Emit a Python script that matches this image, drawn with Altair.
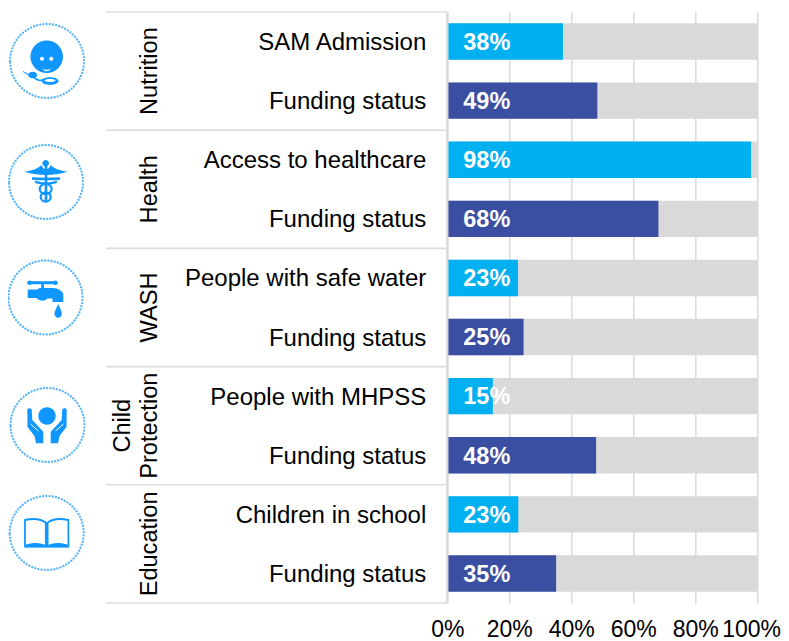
import json
import altair as alt
import pandas as pd

rows = list(range(10))
row_labels = ["SAM Admission", "Funding status", "Access to healthcare", "Funding status",
              "People with safe water", "Funding status", "People with MHPSS", "Funding status",
              "Children in school", "Funding status"]
values = [0.373, 0.484, 0.98, 0.681, 0.228, 0.246, 0.147, 0.48, 0.229, 0.351]
value_labels = ["38%", "49%", "98%", "68%", "23%", "25%", "15%", "48%", "23%", "35%"]
kinds = ["Indicator", "Funding"] * 5
groups = ["Nutrition", "Health", "WASH", "Protection", "Education"]
group_rows = [0.5, 2.5, 4.5, 6.5, 8.5]
second_line = ["Child"]
second_line_rows = [6.5]
separators = [-0.5, 1.5, 3.5, 5.5, 7.5, 9.5]
ticks = [0, 0.2, 0.4, 0.6, 0.8, 1.0]

FONT = "Liberation Sans"
GRID = "#DCDCDC"
BLUE = "#0F97FF"
X0, Y0 = 447.3, 12.0

df = pd.DataFrame({"row": rows, "value": values, "label": value_labels, "kind": kinds, "full": [1.0] * 10})
df_groups = pd.DataFrame({"group": groups, "row": group_rows})
df_second = pd.DataFrame({"group": second_line, "row": second_line_rows})
df_sep = pd.DataFrame({"row": separators})

x_scale = alt.Scale(domain=[0, 1], nice=False, zero=False, padding=0)
y_scale = alt.Scale(domain=[-0.5, 9.5], reverse=True, nice=False, zero=False, padding=0)
label_expr = "%s[datum.value]" % json.dumps(row_labels)

# The page's right margin would clip "100%", so that one label is nudged left to stay whole.
x_axis = alt.Axis(values=ticks, format=".0%", grid=True, gridColor=GRID, gridWidth=1.6, title=None,
                  domain=False, ticks=False, labelFont=FONT, labelFontSize=23,
                  labelColor="#000000", labelPadding=15.5, labelFlush=False, labelOverlap=False,
                  labelOffset=alt.expr("datum.value >= 1 ? -6.2 : 0"))
y_axis = alt.Axis(values=rows, labelExpr=label_expr, grid=False, domain=False, ticks=False, title=None,
                  labelFont=FONT, labelFontSize=24, labelColor="#000000", labelOffset=1,
                  labelPadding=21.5, labelLimit=320, labelOverlap=False, labelFlush=False)

X_FULL = alt.X("full:Q", scale=x_scale, axis=x_axis)
X_VALUE = alt.X("value:Q", scale=x_scale, axis=x_axis)
Y_ROW = alt.Y("row:Q", scale=y_scale, axis=y_axis)

background = alt.Chart(df).mark_bar(orient="horizontal", size=36.4, color="#D9D9D9").encode(x=X_FULL, y=Y_ROW)

bars = alt.Chart(df).mark_bar(orient="horizontal", size=36.4).encode(
    x=X_VALUE, y=Y_ROW,
    color=alt.Color("kind:N", legend=None,
                    scale=alt.Scale(domain=["Indicator", "Funding"], range=["#00B0F0", "#3A4EA2"])),
)

zero_line = alt.Chart(df_sep).mark_rule(color=GRID, strokeWidth=1.6).encode(
    x=alt.datum(0, scale=x_scale, axis=x_axis),
)

bar_text = alt.Chart(df).mark_text(align="left", baseline="middle", dx=16, dy=1.3, font=FONT,
                                   fontWeight="bold", fontSize=23.5, color="#FFFFFF").encode(
    x=alt.datum(0, scale=x_scale, axis=x_axis),
    y=Y_ROW,
    text="label:N",
)

sep_rules = alt.Chart(df_sep).mark_rule(color=GRID, strokeWidth=1.6).encode(
    x=alt.value(106 - X0), x2=alt.value(0), y=Y_ROW,
)

group_mark = dict(angle=270, align="center", baseline="bottom", font=FONT, fontSize=23.6, color="#000000")
group_text = alt.Chart(df_groups).mark_text(**group_mark).encode(
    x=alt.value(161.8 - X0), y=Y_ROW, text="group:N",
)
second_text = alt.Chart(df_second).mark_text(**group_mark).encode(
    x=alt.value(161.8 - 27 - X0), y=Y_ROW, text="group:N",
)


def circle(cx, cy, r):
    return f"M{cx-r},{cy}A{r},{r} 0 1 1 {cx+r},{cy}A{r},{r} 0 1 1 {cx-r},{cy}Z"


def ellipse(cx, cy, rx, ry):
    return f"M{cx-rx},{cy}A{rx},{ry} 0 1 1 {cx+rx},{cy}A{rx},{ry} 0 1 1 {cx-rx},{cy}Z"


def mirror_hand(sign, c=-0.5):
    pts = [(-20.2, -15.7), (-18, -17), (-15.8, -15.7), (-15.2, -5), (-4.2, 6.7), (-4.2, 18.3),
           (-11.5, 18.3), (-13, 11), (-20, 2)]
    return "M" + "L".join(f"{c + sign * (x - c):.1f},{y}" for x, y in pts) + "Z"


# Each icon: centre on the page, then (path, filled?, colour, stroke width)
ICONS = [
    (47, 61, [
        (circle(-0.3, -4.3, 16.3), True, BLUE, 0),
        (circle(-5, -2.3, 2), True, "#FFFFFF", 0),
        (circle(4.3, -2.3, 2), True, "#FFFFFF", 0),
        ("M-5,7.5Q-0.3,10 4.5,7.5Q-0.3,13 -5,7.5Z", True, "#FFFFFF", 0),
        ("M-24,10L-8,18.5L4,18.5L4,20L-9,20L-24,11Z", True, BLUE, 0),
        (ellipse(-14.3, 14, 4.5, 3.2), True, BLUE, 0),
        (ellipse(3, 20, 8.5, 3.8), True, BLUE, 0),
        (ellipse(3, 19.5, 5.5, 1.5), True, "#FFFFFF", 0),
    ]),
    (46, 182, [
        ("M-21.7,-10.3C-14,-11.5 -8,-13 -5,-17C-3,-14 -2,-13 -1,-13L1,-13C2,-13 3,-14 5,-17C8,-13 14,-11.5 21.5,-10.3C14,-8 6,-7 0,-7C-6,-7 -14,-8 -21.7,-10.3Z", True, BLUE, 0),
        (circle(-0.3, -18.7, 3.3), True, BLUE, 0),
        ("M-1.3,-16L1.3,-16L1.3,20L-1.3,20Z", True, BLUE, 0),
        ("M-14,-3.5C-7,-3 7,-3 14,-3.5M-11,-0.5C-6,2 6,2 11,-0.5", False, BLUE, 2.4),
        (ellipse(-0.3, 7, 6, 5), False, BLUE, 2.2),
        (ellipse(-0.3, 15, 5, 4.6), False, BLUE, 2.2),
    ]),
    (45.5, 297.5, [
        ("M-16,-14.8L10,-14.8", False, BLUE, 3),
        (circle(-16, -14.8, 2.3), True, BLUE, 0),
        (circle(10, -14.8, 2.3), True, BLUE, 0),
        ("M-4.3,-15L-1.5,-15L-1.5,-9L-4.3,-9Z", True, BLUE, 0),
        ("M-17.8,-8L-8,-8L-6,-9.5L7,-9.5C13,-9.5 17.8,-6 17.8,-3L17.8,4.5L7,4.5L7,1L2,1C-1,4 -6,4 -9,0.5L-17.8,0.5Z", True, BLUE, 0),
        ("M12.7,6.5C11,11 9,13 9,16.5A3.7,3.7 0 0 0 16.4,16.5C16.4,13 14.4,11 12.7,6.5Z", True, BLUE, 0),
    ]),
    (47.5, 425, [
        (circle(-0.5, -9, 8.7), True, BLUE, 0),
        (mirror_hand(1), True, BLUE, 0),
        (mirror_hand(-1), True, BLUE, 0),
        ("M-17,-1L-9,6M16,-1L8,6", False, "#FFFFFF", 1),
    ]),
    (46.7, 533, [
        ("M0,-9.7C-6,-14.5 -15,-14.5 -21.7,-13L-21.7,13.5L21.7,13.5L21.7,-13C15,-14.5 6,-14.5 0,-9.7ZM-0.9,-9.7L-0.9,13.5M0.9,-9.7L0.9,13.5", False, BLUE, 1.8),
        ("M-21.7,12C-13,9 -6,9.5 0,12.5C6,9.5 13,9 21.7,12L21.7,14.3L-21.7,14.3Z", True, BLUE, 0),
    ]),
]

# Vega draws a custom shape at sqrt(size) / 2 per path unit, so size 4 means one unit is one pixel.
ICON_SIZE = 4
one = alt.Data(values=[{"n": 1}])
icon_layers = []
for px, py, parts in ICONS:
    pos = dict(x=alt.value(px - X0), y=alt.value(py - Y0))
    ring = alt.Chart(one).mark_point(shape=circle(0, 0, 37), size=ICON_SIZE, filled=False, opacity=1,
                                     stroke="#5AB6F8", strokeWidth=2.3, strokeCap="round",
                                     strokeDash=[0.1, 3.1]).encode(**pos)
    icon_layers.append(ring)
    for path, filled, colour, width in parts:
        if filled:
            mark = alt.Chart(one).mark_point(shape=path, size=ICON_SIZE, filled=True, opacity=1,
                                             fill=colour, strokeWidth=0)
        else:
            mark = alt.Chart(one).mark_point(shape=path, size=ICON_SIZE, filled=False, opacity=1,
                                             stroke=colour, strokeWidth=width)
        icon_layers.append(mark.encode(**pos))

chart = alt.layer(background, bars, zero_line, bar_text, sep_rules, group_text, second_text,
                  *icon_layers).properties(
    width=310, height=591, autosize="none",
    padding={"left": X0 - 8, "top": Y0 - 8, "right": 23.5, "bottom": 38},
).configure_view(stroke=None)

chart.save("out.html", embed_options={"renderer": "svg", "actions": False})
